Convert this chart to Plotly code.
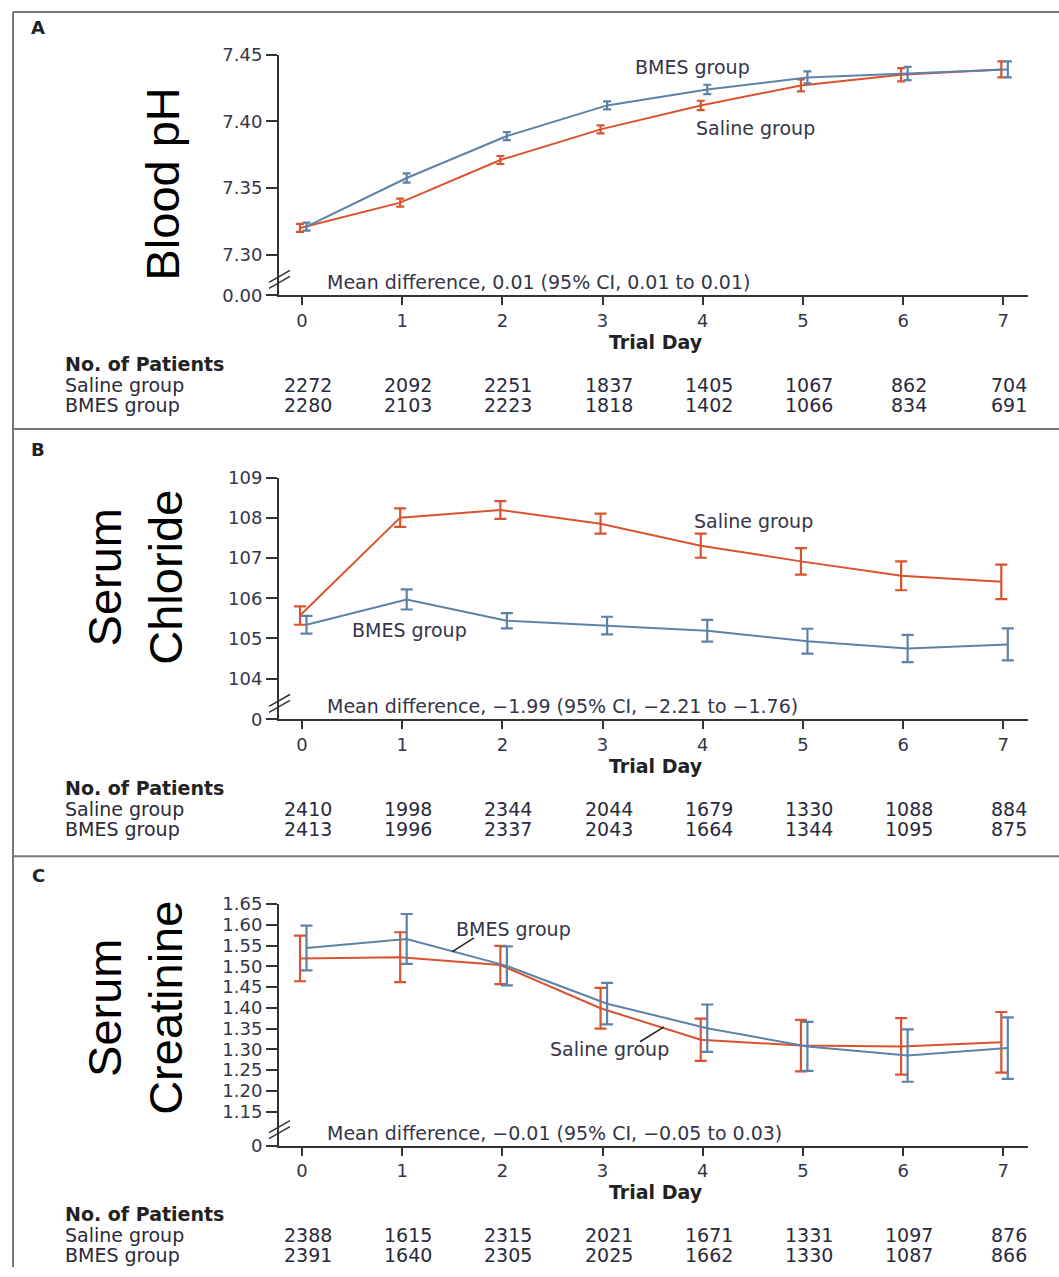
import plotly.graph_objects as go

W, H = 1059, 1277

# ---------------- data ----------------
days = [0, 1, 2, 3, 4, 5, 6, 7]
day_labels = ["0", "1", "2", "3", "4", "5", "6", "7"]

ph_saline = [7.320, 7.339, 7.371, 7.394, 7.412, 7.427, 7.435, 7.439]
ph_saline_err = [0.003, 0.003, 0.003, 0.003, 0.0035, 0.0045, 0.005, 0.006]
ph_bmes = [7.321, 7.3575, 7.389, 7.412, 7.424, 7.433, 7.436, 7.439]
ph_bmes_err = [0.003, 0.0035, 0.003, 0.003, 0.0035, 0.0045, 0.005, 0.006]

cl_saline = [105.57, 108.01, 108.20, 107.86, 107.31, 106.92, 106.56, 106.41]
cl_saline_err = [0.23, 0.23, 0.22, 0.25, 0.30, 0.33, 0.36, 0.43]
cl_bmes = [105.34, 105.97, 105.44, 105.32, 105.19, 104.93, 104.75, 104.85]
cl_bmes_err = [0.22, 0.25, 0.19, 0.22, 0.27, 0.31, 0.34, 0.40]

cr_saline = [1.519, 1.522, 1.503, 1.399, 1.323, 1.309, 1.307, 1.317]
cr_saline_err = [0.055, 0.060, 0.046, 0.049, 0.051, 0.062, 0.068, 0.073]
cr_bmes = [1.544, 1.566, 1.501, 1.410, 1.351, 1.307, 1.285, 1.303]
cr_bmes_err = [0.054, 0.060, 0.047, 0.050, 0.057, 0.059, 0.063, 0.074]

ph_ticks = [7.30, 7.35, 7.40, 7.45]
ph_ticktext = ["7.30", "7.35", "7.40", "7.45"]
cl_ticks = [104, 105, 106, 107, 108, 109]
cl_ticktext = ["104", "105", "106", "107", "108", "109"]
cr_ticks = [1.15, 1.20, 1.25, 1.30, 1.35, 1.40, 1.45, 1.50, 1.55, 1.60, 1.65]
cr_ticktext = ["1.15", "1.20", "1.25", "1.30", "1.35", "1.40", "1.45", "1.50",
               "1.55", "1.60", "1.65"]

n_ph_saline = [2272, 2092, 2251, 1837, 1405, 1067, 862, 704]
n_ph_bmes = [2280, 2103, 2223, 1818, 1402, 1066, 834, 691]
n_cl_saline = [2410, 1998, 2344, 2044, 1679, 1330, 1088, 884]
n_cl_bmes = [2413, 1996, 2337, 2043, 1664, 1344, 1095, 875]
n_cr_saline = [2388, 1615, 2315, 2021, 1671, 1331, 1097, 876]
n_cr_bmes = [2391, 1640, 2305, 2025, 1662, 1330, 1087, 866]

titles = ["Blood pH", "Serum<br>Chloride", "Serum<br>Creatinine"]
letters = ["A", "B", "C"]
zero_labels = ["0.00", "0", "0"]
mean_diff = [
    "Mean difference, 0.01 (95% CI, 0.01 to 0.01)",
    "Mean difference, \u22121.99 (95% CI, \u22122.21 to \u22121.76)",
    "Mean difference, \u22120.01 (95% CI, \u22120.05 to 0.03)",
]

# ---------------- styling ----------------
RED = "#d9532f"
BLUE = "#5e81a8"
TXT = "#353548"
AX = "#333333"
SMALL = "DejaVu Sans"
FS = 19


def PX(x):
    return x / W


def PY(y):
    # vertical pixel position (as seen in the final picture) -> paper fraction
    yin = (y - 9.1) / 0.9856
    return min(1.0, max(0.0, 1 - yin / H))


# panel geometry (pixels): axis top, axis bottom, y range bottom (break), top
panels = [
    dict(top=53, bot=294, lo=7.2694, hi=7.45, ticks=ph_ticks, tt=ph_ticktext,
         s=ph_saline, se=ph_saline_err, b=ph_bmes, be=ph_bmes_err,
         ns=n_ph_saline, nb=n_ph_bmes, frame=8, cap=4, title_y=183,
         title_x=163, letter_y=26),
    dict(top=477, bot=719, lo=102.98, hi=109.0, ticks=cl_ticks, tt=cl_ticktext,
         s=cl_saline, se=cl_saline_err, b=cl_bmes, be=cl_bmes_err,
         ns=n_cl_saline, nb=n_cl_bmes, frame=428, cap=6, title_y=577,
         title_x=135, letter_y=449),
    dict(top=904, bot=1146, lo=1.0683, hi=1.65, ticks=cr_ticks, tt=cr_ticktext,
         s=cr_saline, se=cr_saline_err, b=cr_bmes, be=cr_bmes_err,
         ns=n_cr_saline, nb=n_cr_bmes, frame=856, cap=6, title_y=1008,
         title_x=135, letter_y=875),
]

X_LEFT, X_RIGHT = 279, 1028
X0_PX, X7_PX = 302, 1003.3
xstep = (X7_PX - X0_PX) / 7
xr = [-(X0_PX - X_LEFT) / xstep, 7 + (X_RIGHT - X7_PX) / xstep]

fig = go.Figure()
layout = dict(
    width=W, height=H, margin=dict(l=0, r=0, t=0, b=0),
    paper_bgcolor="white", plot_bgcolor="white", showlegend=False,
)
annotations = []
shapes = []

for i, p in enumerate(panels):
    k = "" if i == 0 else str(i + 1)
    xa, ya = "x" + k, "y" + k
    xs = [d - 0.02 for d in days]
    xb = [d + 0.045 for d in days]
    fig.add_trace(go.Scatter(
        x=xs, y=p["s"], mode="lines", xaxis=xa, yaxis=ya,
        line=dict(color=RED, width=2),
        error_y=dict(type="data", array=p["se"], color=RED, thickness=2.2,
                     width=p["cap"]),
        name="Saline group"))
    fig.add_trace(go.Scatter(
        x=xb, y=p["b"], mode="lines", xaxis=xa, yaxis=ya,
        line=dict(color=BLUE, width=2),
        error_y=dict(type="data", array=p["be"], color=BLUE, thickness=2.2,
                     width=p["cap"]),
        name="BMES group"))

    layout["xaxis" + k] = dict(
        domain=[PX(X_LEFT), PX(X_RIGHT)], anchor=ya, range=xr,
        tickvals=days, ticktext=day_labels, ticks="outside", ticklen=8,
        tickwidth=2, tickcolor=AX, showline=True, linecolor=AX, linewidth=2,
        showgrid=False, zeroline=False, fixedrange=True,
        tickfont=dict(family=SMALL, size=18, color=TXT),
    )
    layout["yaxis" + k] = dict(
        domain=[PY(p["bot"]), PY(p["top"])], anchor=xa,
        range=[p["lo"], p["hi"]],
        tickvals=[p["lo"]] + p["ticks"], ticktext=[zero_labels[i]] + p["tt"],
        ticks="outside", ticklen=11, tickwidth=2, tickcolor=AX,
        showline=True, linecolor=AX, linewidth=2, showgrid=False,
        zeroline=False, fixedrange=True,
        tickfont=dict(family=SMALL, size=18, color=TXT),
    )

    # frame line at top of panel
    fy = PY(p["frame"])
    if fy >= 1.0:
        fy = 1 - 1.0 / H
    shapes.append(dict(type="line", xref="paper", yref="paper",
                       x0=PX(13), x1=1, y0=fy, y1=fy,
                       line=dict(color="#777777", width=2)))
    # axis break marks
    yb = p["bot"] - 16
    for off in (-3, 3):
        shapes.append(dict(type="line", xref="paper", yref="paper",
                           x0=PX(269), y0=PY(yb + 6 + off),
                           x1=PX(290), y1=PY(yb - 6 + off),
                           line=dict(color=AX, width=1.5)))

    # panel letter
    annotations.append(dict(text="<b>" + letters[i] + "</b>", xref="paper",
                            yref="paper", x=PX(38), y=PY(p["letter_y"]),
                            showarrow=False, xanchor="center",
                            yanchor="middle",
                            font=dict(family=SMALL, size=18, color="#222")))
    # big y title
    annotations.append(dict(text=titles[i], xref="paper", yref="paper",
                            x=PX(p["title_x"]), y=PY(p["title_y"]),
                            textangle=-90, showarrow=False,
                            xanchor="center", yanchor="middle",
                            font=dict(family="Liberation Sans", size=47,
                                      color="black")))
    # mean difference
    annotations.append(dict(text=mean_diff[i], xref="paper", yref="paper",
                            x=PX(325), y=PY(p["bot"] - 13), showarrow=False,
                            xanchor="left", yanchor="middle",
                            font=dict(family=SMALL, size=FS, color=TXT)))
    # trial day
    annotations.append(dict(text="<b>Trial Day</b>", xref="paper",
                            yref="paper", x=PX(656), y=PY(p["bot"] + 47),
                            showarrow=False, xanchor="center",
                            yanchor="middle",
                            font=dict(family=SMALL, size=FS, color="#222")))
    # table
    annotations.append(dict(text="<b>No. of Patients</b>", xref="paper",
                            yref="paper", x=PX(63), y=PY(p["bot"] + 69),
                            showarrow=False, xanchor="left", yanchor="middle",
                            font=dict(family=SMALL, size=FS, color="#222")))
    for j, (lab, vals) in enumerate([("Saline group", p["ns"]),
                                     ("BMES group", p["nb"])]):
        yrow = PY(p["bot"] + 90 + 20 * j)
        annotations.append(dict(text=lab, xref="paper", yref="paper",
                                x=PX(63), y=yrow, showarrow=False,
                                xanchor="left", yanchor="middle",
                                font=dict(family=SMALL, size=FS,
                                          color="#2a2a3a")))
        for d, v in zip(days, vals):
            annotations.append(dict(text=str(v), xref=xa, yref="paper",
                                    x=d, y=yrow, xshift=6, showarrow=False,
                                    xanchor="center", yanchor="middle",
                                    font=dict(family=SMALL, size=FS,
                                              color="#2a2a3a")))


# group labels
def glabel(text, x, y):
    annotations.append(dict(text=text, xref="paper", yref="paper",
                            x=PX(x), y=PY(y), showarrow=False,
                            xanchor="center", yanchor="middle",
                            font=dict(family=SMALL, size=FS, color=TXT)))


glabel("BMES group", 692, 65)
glabel("Saline group", 756, 126)
glabel("Saline group", 753, 520)
glabel("BMES group", 409, 629)
glabel("BMES group", 513, 929)
glabel("Saline group", 609, 1049)

# leader lines in panel C
shapes.append(dict(type="line", xref="paper", yref="paper",
                   x0=PX(452), y0=PY(952), x1=PX(474), y1=PY(938),
                   line=dict(color="#222", width=1.5)))
shapes.append(dict(type="line", xref="paper", yref="paper",
                   x0=PX(640), y0=PY(1042), x1=PX(664), y1=PY(1027),
                   line=dict(color="#222", width=1.5)))
# left frame line
shapes.append(dict(type="line", xref="paper", yref="paper",
                   x0=PX(13), x1=PX(13), y0=0, y1=1 - 1.0 / H,
                   line=dict(color="#777777", width=2)))

layout["annotations"] = annotations
layout["shapes"] = shapes
fig.update_layout(**layout)
fig.write_html("out.html")
